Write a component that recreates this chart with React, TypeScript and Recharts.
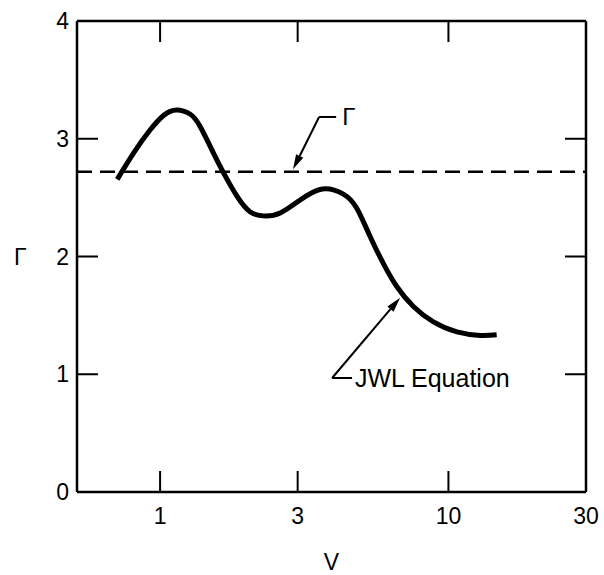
import { LineChart, Line, XAxis, YAxis, ReferenceLine, ReferenceDot } from 'recharts';

// Γ along the JWL equation (V on a log axis)
const V_POINTS = [
  0.71, 0.81, 0.92, 1.03, 1.14, 1.27, 1.38, 1.53, 1.66, 1.85, 2.05, 2.28, 2.61,
  3.06, 3.35, 3.75, 4.32, 4.81, 5.35, 5.95, 6.62, 7.56, 8.87, 10.7, 12.9, 14.7,
];
const GAMMA_JWL = [
  2.655, 2.88, 3.07, 3.2, 3.245, 3.21, 3.1, 2.88, 2.71, 2.51, 2.38, 2.345, 2.37,
  2.48, 2.54, 2.575, 2.53, 2.41, 2.17, 1.94, 1.745, 1.575, 1.445, 1.36, 1.33, 1.335,
];
const GAMMA_CONSTANT = 2.72;

const X_TICKS = [1, 3, 10, 30];
const Y_TICKS = [0, 1, 2, 3, 4];
const X_INNER_TICKS = [1, 3, 10];
const Y_INNER_TICKS = [1, 2, 3];
const X_DOMAIN = [0.515, 30];
const Y_DOMAIN = [0, 4];

// callouts, in data units: [elbow, arrow tip, end of the flat leader]
const GAMMA_CALLOUT = [
  { x: 3.56, y: 3.185 },
  { x: 2.89, y: 2.74 },
  { x: 4.08, y: 3.185 },
];
const JWL_CALLOUT = [
  { x: 3.95, y: 0.968 },
  { x: 6.8, y: 1.65 },
  { x: 4.63, y: 0.968 },
];

const data = V_POINTS.map((v, i) => ({ v, g: GAMMA_JWL[i] }));

const FONT = '"Liberation Sans", Arial, sans-serif';
const TICK_LEN = 21;

function HTicks(props: any) {
  const { x1, x2, y1 } = props;
  const l = Math.min(x1, x2);
  const r = Math.max(x1, x2);
  return (
    <g>
      <line x1={l} y1={y1} x2={l + TICK_LEN} y2={y1} stroke="#000" strokeWidth={2} />
      <line x1={r - TICK_LEN} y1={y1} x2={r} y2={y1} stroke="#000" strokeWidth={2} />
    </g>
  );
}

function VTicks(props: any) {
  const { x1, y1, y2 } = props;
  const t = Math.min(y1, y2);
  const b = Math.max(y1, y2);
  return (
    <g>
      <line x1={x1} y1={t} x2={x1} y2={t + TICK_LEN} stroke="#000" strokeWidth={2} />
      <line x1={x1} y1={b - TICK_LEN} x2={x1} y2={b} stroke="#000" strokeWidth={2} />
    </g>
  );
}

function Arrow(props: any) {
  const { x1, y1, x2, y2 } = props;
  const ang = Math.atan2(y2 - y1, x2 - x1);
  const len = 15;
  const half = 4;
  const bx = x2 - len * Math.cos(ang);
  const by = y2 - len * Math.sin(ang);
  const px = -Math.sin(ang) * half;
  const py = Math.cos(ang) * half;
  return (
    <g>
      <line x1={x1} y1={y1} x2={bx} y2={by} stroke="#000" strokeWidth={2} />
      <path d={`M${x2},${y2} L${bx + px},${by + py} L${bx - px},${by - py} Z`} fill="#000" />
    </g>
  );
}

export default function App() {
  return (
    <div style={{ position: 'absolute', left: 0, top: 0, background: '#fff' }}>
      <LineChart
        width={604}
        height={575}
        data={data}
        margin={{ top: 21, right: 18, bottom: 0, left: 0 }}
      >
        <XAxis
          dataKey="v"
          type="number"
          scale="log"
          domain={X_DOMAIN}
          allowDataOverflow
          ticks={X_TICKS}
          height={83}
          tickLine={false}
          tickSize={0}
          tickMargin={16}
          axisLine={{ stroke: '#000', strokeWidth: 2.5 }}
          tick={{ fill: '#000', fontSize: 23, fontFamily: FONT }}
          label={{ value: 'V', position: 'insideBottom', offset: 5, fill: '#000', fontSize: 23, fontFamily: FONT }}
        />
        <YAxis
          type="number"
          domain={Y_DOMAIN}
          ticks={Y_TICKS}
          width={77}
          tickLine={false}
          tickSize={0}
          tickMargin={8}
          axisLine={{ stroke: '#000', strokeWidth: 2.5 }}
          tick={{ fill: '#000', fontSize: 23, fontFamily: FONT }}
          label={{ value: 'Γ', position: 'insideLeft', offset: 14, fill: '#000', fontSize: 23, fontFamily: FONT }}
        />
        <ReferenceLine y={4} stroke="#000" strokeWidth={2.5} ifOverflow="visible" />
        <ReferenceLine x={30} stroke="#000" strokeWidth={2.5} ifOverflow="visible" />
        {Y_INNER_TICKS.map((t) => (
          <ReferenceLine key={`y${t}`} y={t} shape={<HTicks />} ifOverflow="visible" />
        ))}
        {X_INNER_TICKS.map((t) => (
          <ReferenceLine key={`x${t}`} x={t} shape={<VTicks />} ifOverflow="visible" />
        ))}
        <ReferenceLine
          y={GAMMA_CONSTANT}
          stroke="#000"
          strokeWidth={2.5}
          strokeDasharray="15 8"
        />
        <Line
          dataKey="g"
          type="natural"
          stroke="#000"
          strokeWidth={5}
          dot={false}
          isAnimationActive={false}
        />
        <ReferenceLine
          segment={[GAMMA_CALLOUT[0], GAMMA_CALLOUT[1]]}
          shape={<Arrow />}
          ifOverflow="visible"
        />
        <ReferenceLine
          segment={[GAMMA_CALLOUT[0], GAMMA_CALLOUT[2]]}
          stroke="#000"
          strokeWidth={2}
          ifOverflow="visible"
        />
        <ReferenceDot
          x={GAMMA_CALLOUT[2].x}
          y={GAMMA_CALLOUT[2].y}
          r={0}
          stroke="none"
          ifOverflow="visible"
          label={{ value: 'Γ', position: 'right', offset: 6, fill: '#000', fontSize: 24, fontFamily: FONT }}
        />
        <ReferenceLine
          segment={[JWL_CALLOUT[0], JWL_CALLOUT[1]]}
          shape={<Arrow />}
          ifOverflow="visible"
        />
        <ReferenceLine
          segment={[JWL_CALLOUT[0], JWL_CALLOUT[2]]}
          stroke="#000"
          strokeWidth={2}
          ifOverflow="visible"
        />
        <ReferenceDot
          x={JWL_CALLOUT[2].x}
          y={JWL_CALLOUT[2].y}
          r={0}
          stroke="none"
          ifOverflow="visible"
          label={{ value: 'JWL Equation', position: 'right', offset: 3, fill: '#000', fontSize: 25, fontFamily: FONT }}
        />
      </LineChart>
    </div>
  );
}
